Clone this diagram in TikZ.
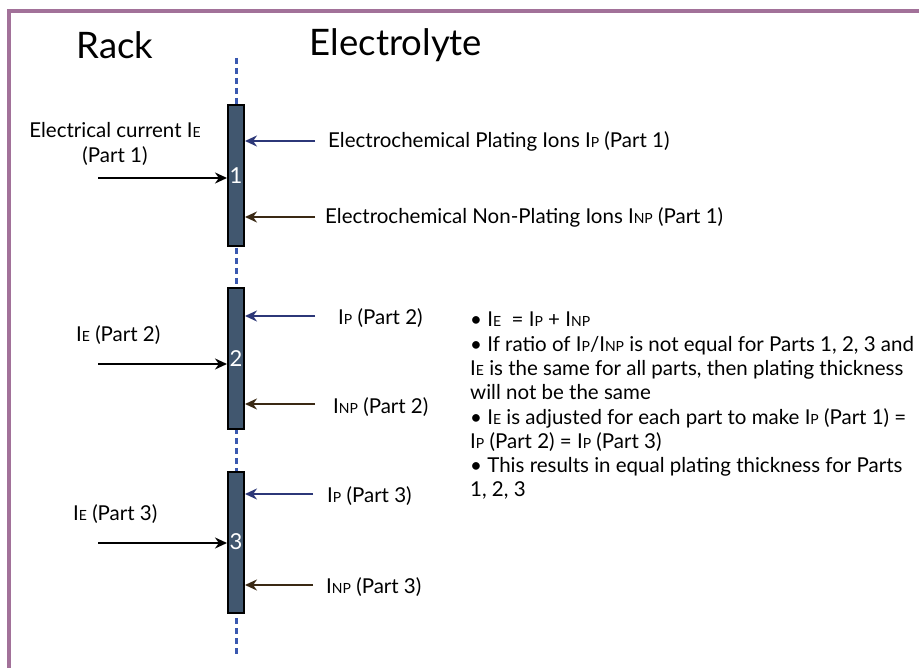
\documentclass[tikz,border=0pt]{standalone}
\usepackage{fontspec}
\setmainfont{Lato}
\usetikzlibrary{arrows.meta}
\definecolor{framecol}{HTML}{A27199}
\definecolor{barfill}{HTML}{41576F}
\definecolor{dashblue}{HTML}{3A58B0}
\definecolor{pblue}{HTML}{2C3778}
\definecolor{npbrown}{HTML}{3A2914}
\newcommand\sbs[1]{{\fontsize{14}{14}\selectfont #1}}
\tikzset{
  titletxt/.style={font=\fontsize{36.5}{40}\selectfont, inner sep=0},
  txt/.style={font=\fontsize{20.5}{24.3}\selectfont, inner sep=0},
  barbox/.style={draw=black, line width=2pt, fill=barfill, minimum width=16pt, minimum height=141pt, inner sep=0, text=white, font=\fontsize{22}{22}\selectfont},
  earrow/.style={draw=black, line width=2.8pt, -{Stealth[length=12pt,width=11pt]}},
  parrow/.style={draw=pblue, line width=2.8pt, -{Stealth[length=12pt,width=11pt]}},
  nparrow/.style={draw=npbrown, line width=2.8pt, -{Stealth[length=12pt,width=11pt]}},
  rackline/.style={draw=dashblue, line width=3pt, dash pattern=on 6pt off 4pt}
}
\begin{document}
\begin{tikzpicture}[x=1pt,y=-1pt]
\useasboundingbox (0,0) rectangle (919,668);
\fill[white] (0,0) rectangle (919,668);
\draw[framecol, line width=4pt] (9,672) -- (9,11) -- (923,11);

\node[titletxt] (rack) at (115,45) {Rack};
\node[titletxt] (elec) at (396,45) {Electrolyte};

\coordinate (dtop) at (236,58);
\coordinate (dbot) at (236,655);
\draw[rackline] (dtop) -- (dbot);

\node[barbox] (b1) at (236,176) {1};
\node[barbox] (b2) at (236,359) {2};
\node[barbox] (b3) at (236,542) {3};

% left arrows
\coordinate (e1) at (98,178);
\coordinate (e2) at (98,364);
\coordinate (e3) at (98,543);
\draw[earrow] (e1) -- (e1 -| b1.west);
\draw[earrow] (e2) -- (e2 -| b2.west);
\draw[earrow] (e3) -- (e3 -| b3.west);

% right arrows
\coordinate (p1) at (315,141);
\coordinate (n1) at (315,217);
\coordinate (p2) at (315,316);
\coordinate (n2) at (315,404);
\coordinate (p3) at (313,494);
\coordinate (n3) at (313,585);
\draw[parrow] (p1) -- (p1 -| b1.east);
\draw[nparrow] (n1) -- (n1 -| b1.east);
\draw[parrow] (p2) -- (p2 -| b2.east);
\draw[nparrow] (n2) -- (n2 -| b2.east);
\draw[parrow] (p3) -- (p3 -| b3.east);
\draw[nparrow] (n3) -- (n3 -| b3.east);

% left labels
\node[txt, align=center] (le1) at (115,144) {Electrical current I\sbs{E}\\(Part 1)};
\node[txt, anchor=west] (le2) at (76,335) {I\sbs{E} (Part 2)};
\node[txt, anchor=west] (le3) at (73,514) {I\sbs{E} (Part 3)};

% right labels
\node[txt, anchor=west] (lp1) at (328,141) {Electrochemical Plating Ions I\sbs{P} (Part 1)};
\node[txt, anchor=west] (ln1) at (325,217) {Electrochemical Non-Plating Ions I\sbs{NP} (Part 1)};
\node[txt, anchor=west] (lp2) at (338,318) {I\sbs{P} (Part 2)};
\node[txt, anchor=west] (ln2) at (333,407) {I\sbs{NP} (Part 2)};
\node[txt, anchor=west] (lp3) at (327,496) {I\sbs{P} (Part 3)};
\node[txt, anchor=west] (ln3) at (326,587) {I\sbs{NP} (Part 3)};

% explanation
\node[txt, anchor=north west, align=left] (notes) at (470,312) {%
\textbullet\ I\sbs{E}\ \ = I\sbs{P} + I\sbs{NP}\\
\textbullet\ If ratio of I\sbs{P}/I\sbs{NP} is not equal for Parts 1, 2, 3 and\\
I\sbs{E} is the same for all parts, then plating thickness\\
will not be the same\\
\textbullet\ I\sbs{E} is adjusted for each part to make I\sbs{P} (Part 1) =\\
I\sbs{P} (Part 2) = I\sbs{P} (Part 3)\\
\textbullet\ This results in equal plating thickness for Parts\\
1, 2, 3};
\end{tikzpicture}
\end{document}
